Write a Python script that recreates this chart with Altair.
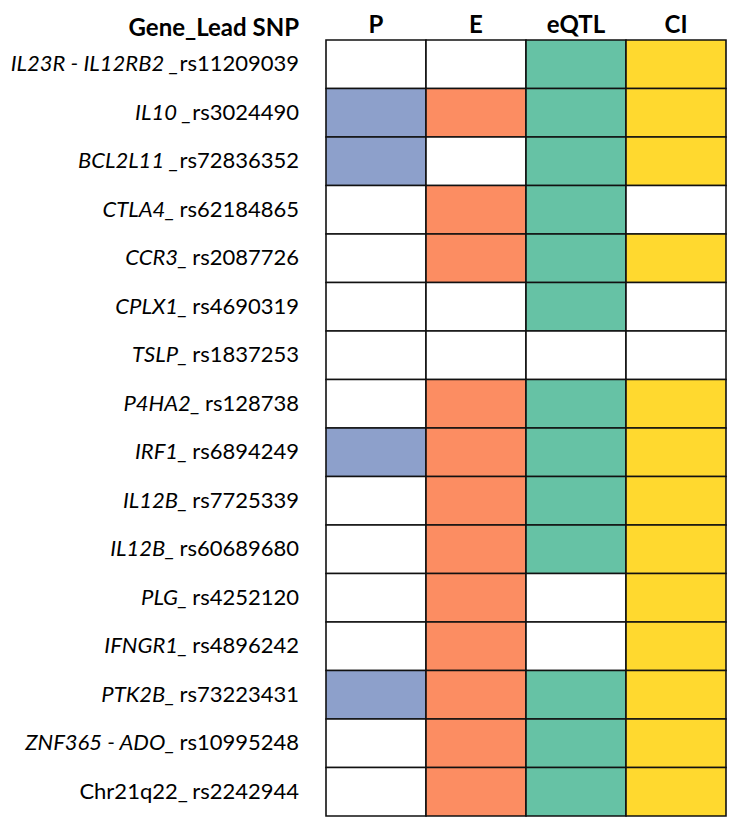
import altair as alt
import pandas as pd

# ---- data ----
genes = ["IL23R - IL12RB2 _", "IL10 _", "BCL2L11 _", "CTLA4_", "CCR3_", "CPLX1_",
         "TSLP_", "P4HA2_", "IRF1_", "IL12B_", "IL12B_", "PLG_", "IFNGR1_",
         "PTK2B_", "ZNF365 - ADO_", "Chr21q22_"]
snps = ["rs11209039", "rs3024490", "rs72836352", "rs62184865", "rs2087726",
        "rs4690319", "rs1837253", "rs128738", "rs6894249", "rs7725339",
        "rs60689680", "rs4252120", "rs4896242", "rs73223431", "rs10995248",
        "rs2242944"]
italic_gene = [True] * 15 + [False]
attached = [True, True, True] + [False] * 13   # "_rs" vs "_ rs"
columns = ["P", "E", "eQTL", "CI"]
P = [0, 1, 1, 0, 0, 0, 0, 0, 1, 0, 0, 0, 0, 1, 0, 0]
E = [0, 1, 0, 1, 1, 0, 0, 1, 1, 1, 1, 1, 1, 1, 1, 1]
eQTL = [1, 1, 1, 1, 1, 1, 0, 1, 1, 1, 1, 0, 0, 1, 1, 1]
CI = [1, 1, 1, 0, 1, 0, 0, 1, 1, 1, 1, 1, 1, 1, 1, 1]
colors = {"P": "#8DA0CB", "E": "#FC8D62", "eQTL": "#66C2A5", "CI": "#FFD92F", "none": "#FFFFFF"}

FONT = "Lato"
FS = 22
LABEL_GAP = 27

# approximate advance widths (em) for the SNP text, to place the gene part before it
adv = {"r": 0.366, "s": 0.40}
def snp_width(s):
    return sum(adv.get(c, 0.58) for c in s) * FS

rows = [f"r{i:02d}" for i in range(len(genes))]
values = {"P": P, "E": E, "eQTL": eQTL, "CI": CI}

cells = []
for i, r in enumerate(rows):
    for c in columns:
        v = values[c][i]
        cells.append({"row": r, "col": c, "fill": c if v else "none"})
cells = pd.DataFrame(cells)

labels = pd.DataFrame({
    "row": rows,
    "gene": genes,
    "snp": snps,
    "ital": italic_gene,
    "gx": [-(LABEL_GAP + snp_width(s) + (1 if a else 5)) for s, a in zip(snps, attached)],
})

yenc = alt.Y("row:N", sort=rows, axis=None,
             scale=alt.Scale(paddingInner=0, paddingOuter=0))

grid = alt.Chart(cells).mark_rect(stroke="#111111", strokeWidth=1.6).encode(
    x=alt.X("col:N", sort=columns,
            scale=alt.Scale(paddingInner=0, paddingOuter=0),
            axis=alt.Axis(orient="top", title=None, domain=False, ticks=False,
                          labelFontSize=24, labelFontWeight="bold", labelFont=FONT,
                          labelColor="black", labelPadding=3, labelAngle=0)),
    y=yenc,
    color=alt.Color("fill:N", legend=None,
                    scale=alt.Scale(domain=list(colors.keys()), range=list(colors.values()))),
)

snp_text = alt.Chart(labels).mark_text(
    align="right", baseline="middle", font=FONT, fontSize=FS, color="black"
).encode(x=alt.value(-LABEL_GAP), y=yenc, text="snp:N")

gene_it = alt.Chart(labels).transform_filter("datum.ital").mark_text(
    align="right", baseline="middle", font=FONT, fontSize=FS, fontStyle="italic", color="black"
).encode(x=alt.X("gx:Q", scale=None, axis=None), y=yenc, text="gene:N")

gene_up = alt.Chart(labels).transform_filter("!datum.ital").mark_text(
    align="right", baseline="middle", font=FONT, fontSize=FS, color="black"
).encode(x=alt.X("gx:Q", scale=None, axis=None), y=yenc, text="gene:N")

header = alt.Chart(pd.DataFrame({"t": ["Gene_Lead SNP"]})).mark_text(
    align="right", baseline="alphabetic", font=FONT, fontSize=24, fontWeight="bold", color="black"
).encode(x=alt.value(-LABEL_GAP), y=alt.value(-4), text="t:N")

chart = alt.layer(grid, snp_text, gene_it, gene_up, header).properties(
    width=400, height=776,
    padding={"left": 2, "top": 5, "right": 2, "bottom": 2},
).configure_view(stroke=None)

chart.save("out.html", embed_options={"renderer": "svg", "actions": False})
